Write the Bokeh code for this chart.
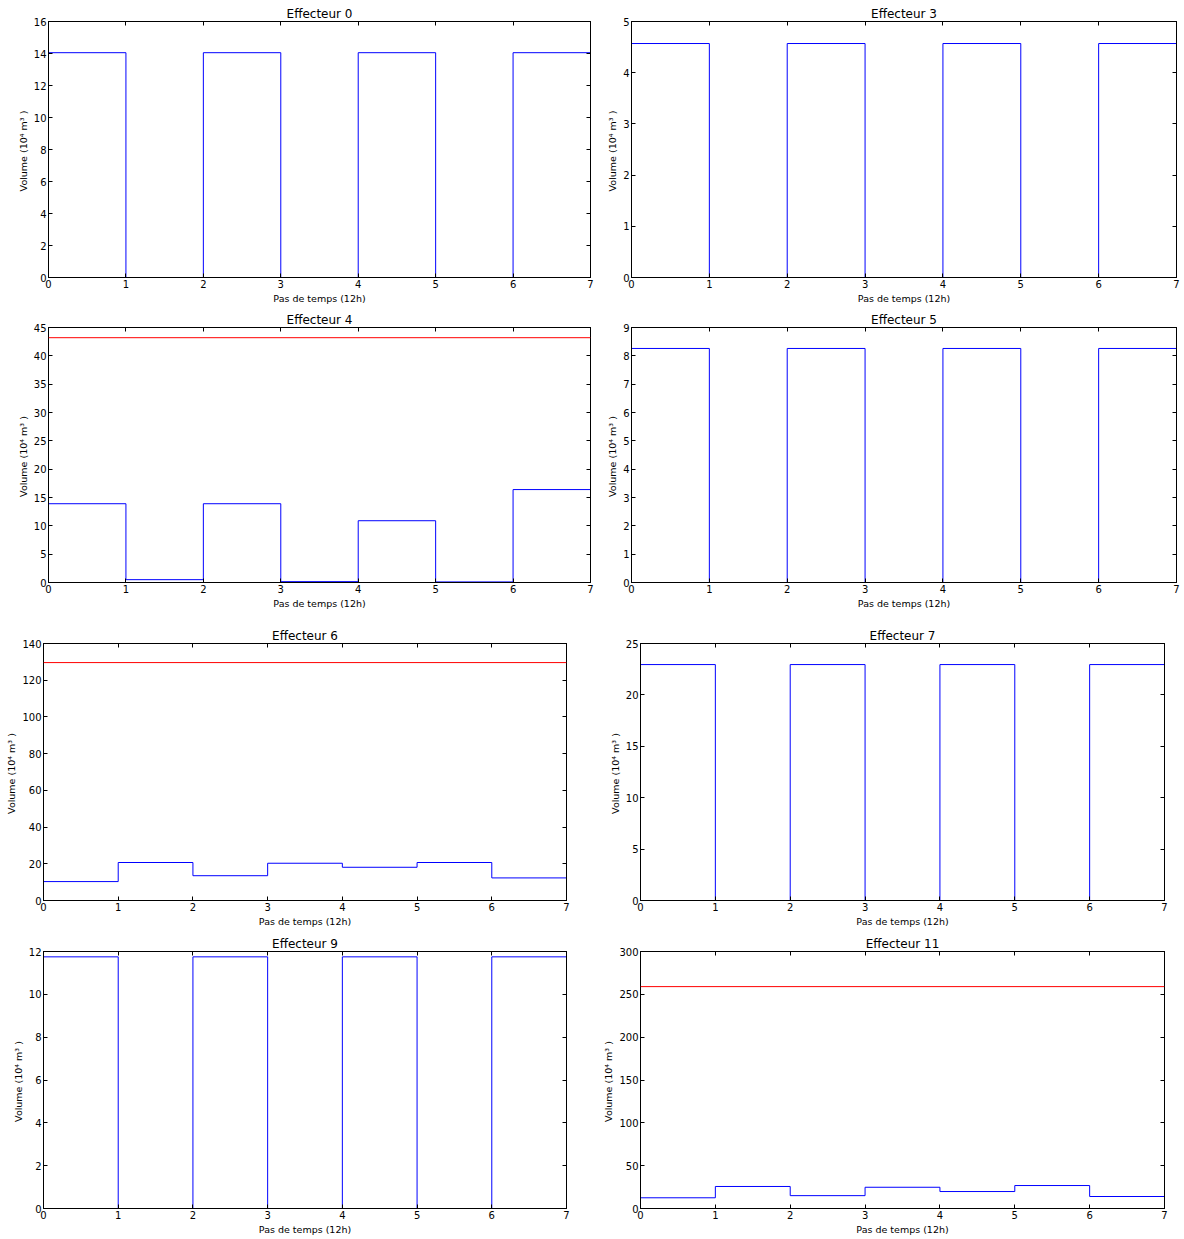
from bokeh.plotting import figure
from bokeh.layouts import column, row
from bokeh.models import Range1d, LinearAxis, FixedTicker, Span
from bokeh.embed import file_html
from bokeh.resources import INLINE

# ---- data ----
time_steps = [0, 1, 2, 3, 4, 5, 6, 7]
x_ticks = [0, 1, 2, 3, 4, 5, 6, 7]

eff0 = [14.05, 0, 14.05, 0, 14.05, 0, 14.05]
eff3 = [4.57, 0, 4.57, 0, 4.57, 0, 4.57]
eff4 = [13.9, 0.5, 13.9, 0.15, 10.9, 0.1, 16.4]
eff4_limit = 43.2
eff5 = [8.26, 0, 8.26, 0, 8.26, 0, 8.26]
eff6 = [10.3, 20.7, 13.5, 20.3, 18.1, 20.7, 12.3]
eff6_limit = 129.6
eff7 = [22.95, 0, 22.95, 0, 22.95, 0, 22.95]
eff9 = [11.75, 0, 11.75, 0, 11.75, 0, 11.75]
eff11 = [12.5, 25.7, 15.0, 24.8, 19.8, 26.8, 14.0]
eff11_limit = 259.0

titles = ["Effecteur 0", "Effecteur 3", "Effecteur 4", "Effecteur 5",
          "Effecteur 6", "Effecteur 7", "Effecteur 9", "Effecteur 11"]
y_max = [16, 5, 45, 9, 140, 25, 12, 300]
y_step = [2, 1, 5, 1, 20, 5, 2, 50]

XLABEL = "Pas de temps (12h)"
YLABEL = "Volume (10\u2074  m\u00b3 )"
FONT = "DejaVu Sans"


def style_axis(ax, show_labels=True):
    ax.major_tick_in = 4
    ax.major_tick_out = 0
    ax.minor_tick_line_color = None
    ax.axis_line_color = "black"
    ax.major_tick_line_color = "black"
    ax.major_label_text_font = FONT
    ax.axis_label_text_font = FONT
    ax.axis_label_text_font_style = "normal"
    ax.axis_label_text_font_size = "9.5px"
    ax.axis_label_text_color = "black"
    if show_labels:
        ax.major_label_text_color = "black"
        ax.major_label_text_font_size = "10px"
        ax.major_label_standoff = 2
        ax.axis_label_standoff = 2
    else:
        ax.major_label_text_color = None
        ax.major_label_text_alpha = 0
        ax.major_label_text_font_size = "0px"
        ax.major_label_standoff = 0
        ax.axis_label = None


def make_fig(title, ys, ymax, ystep, limit, width, height, ml, mr, mt, mb):
    p = figure(width=width, height=height, output_backend="svg",
               toolbar_location=None, x_range=Range1d(0, 7),
               y_range=Range1d(0, ymax),
               min_border_left=ml, min_border_right=mr,
               min_border_top=mt, min_border_bottom=mb)
    p.title.text = title
    p.title.align = "center"
    p.title.text_font = FONT
    p.title.text_font_size = "12px"
    p.title.text_font_style = "normal"
    p.title.text_color = "black"
    p.title.standoff = 2
    p.title.offset = 0
    p.xgrid.visible = False
    p.ygrid.visible = False
    p.outline_line_color = "black"
    p.outline_line_alpha = 1
    p.background_fill_color = "white"
    p.border_fill_color = "white"

    yticks = list(range(0, ymax + 1, ystep))
    p.xaxis.ticker = FixedTicker(ticks=x_ticks)
    p.yaxis.ticker = FixedTicker(ticks=yticks)
    p.xaxis.axis_label = XLABEL
    p.yaxis.axis_label = YLABEL
    for ax in p.xaxis + p.yaxis:
        style_axis(ax)

    top = LinearAxis(ticker=FixedTicker(ticks=x_ticks))
    style_axis(top, show_labels=False)
    p.add_layout(top, "above")
    right = LinearAxis(ticker=FixedTicker(ticks=yticks))
    style_axis(right, show_labels=False)
    p.add_layout(right, "right")

    yy = list(ys) + [ys[-1]]
    p.step(time_steps, yy, mode="after", line_color="#0000ff", line_width=1)
    if limit is not None:
        p.add_layout(Span(location=limit, dimension="width",
                          line_color="#ff0000", line_width=1))
    return p


series = [eff0, eff3, eff4, eff5, eff6, eff7, eff9, eff11]
limits = [None, None, eff4_limit, None, eff6_limit, None, None, eff11_limit]

# (width, height, left, right, top, bottom)
geo = [
    (594, 306, 48, 4, 21, 29), (590, 306, 37, 8, 21, 29),
    (594, 306, 48, 4, 21, 30), (590, 306, 37, 8, 21, 30),
    (594, 318, 43, 28, 31, 30), (590, 318, 46, 20, 31, 30),
    (594, 309, 43, 28, 21, 31), (590, 309, 46, 20, 21, 31),
]

figs = []
for i in range(8):
    w, h, ml, mr, mt, mb = geo[i]
    figs.append(make_fig(titles[i], series[i], y_max[i], y_step[i], limits[i],
                         w, h, ml, mr, mt, mb))

layout = column(
    row(figs[0], figs[1], spacing=0),
    row(figs[2], figs[3], spacing=0),
    row(figs[4], figs[5], spacing=0),
    row(figs[6], figs[7], spacing=0),
    spacing=0,
)

open("out.html", "w").write(file_html(layout, INLINE, "Effecteurs"))
